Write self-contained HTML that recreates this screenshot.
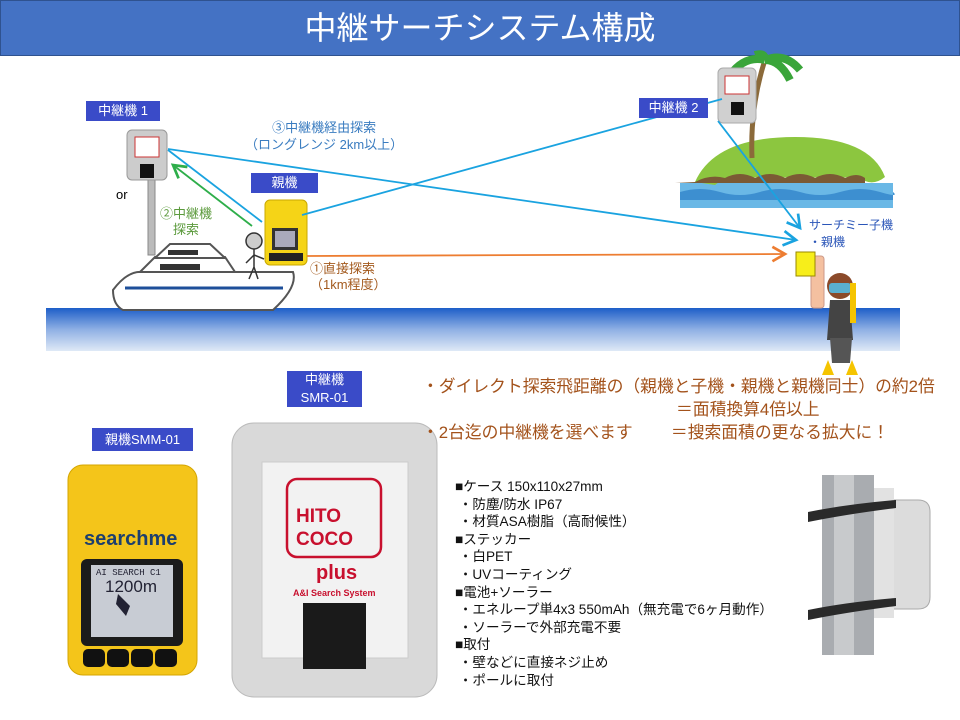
<!DOCTYPE html>
<html><head><meta charset="utf-8"><style>
body{margin:0;width:960px;height:720px;background:#fff;position:relative;overflow:hidden;font-family:"Liberation Sans","Noto Sans CJK JP",sans-serif}
.a{position:absolute;white-space:nowrap}
.lb{position:absolute;background:#3a4bc8;color:#fff;font-size:13px;text-align:center;line-height:20px}
</style></head><body>
<div class="a" style="left:0;top:0;width:958px;height:54px;background:#4472c4;border:1px solid #2f528f"></div>
<div class="a" style="left:0;top:7px;width:960px;text-align:center;color:#fff;font-size:32px;line-height:42px">中継サーチシステム構成</div>

<svg class="a" style="left:0;top:0" width="960" height="720">
<defs>
<linearGradient id="sea" x1="0" y1="0" x2="0" y2="1"><stop offset="0" stop-color="#1d5ec8"/><stop offset="0.5" stop-color="#8fb0e4"/><stop offset="1" stop-color="#dfe9f6"/></linearGradient>
<marker id="ab" markerWidth="10" markerHeight="10" refX="8" refY="5" orient="auto"><path d="M1,1 L8,5 L1,9" fill="none" stroke="#1aa3e0" stroke-width="1.5"/></marker>
<marker id="ag" markerWidth="10" markerHeight="10" refX="8" refY="5" orient="auto"><path d="M1,1 L8,5 L1,9" fill="none" stroke="#2eae4a" stroke-width="1.5"/></marker>
<marker id="ao" markerWidth="10" markerHeight="10" refX="8" refY="5" orient="auto"><path d="M1,1 L8,5 L1,9" fill="none" stroke="#ed7d31" stroke-width="1.5"/></marker>
</defs>
<rect x="46" y="308" width="854" height="43" fill="url(#sea)"/>
<!-- island -->
<rect x="680" y="183" width="213" height="25" fill="#6ab8e6"/>
<path d="M680,192 q20,-6 40,0 t40,0 t40,0 t40,0 t40,0 t13,0 v8 h-213z" fill="#3d8fd0"/>
<path d="M695,182 q20,-45 100,-45 q75,0 90,40 q-10,8 -20,4 q-15,-8 -30,0 q-15,-8 -30,0 q-15,-8 -30,0 q-15,-8 -30,0 q-15,-8 -30,4z" fill="#8cc63f"/>
<path d="M695,182 q15,-8 30,-4 q15,-8 30,0 q15,-8 30,0 q15,-8 30,0 q15,-8 30,0 q12,-6 20,0 v5 h-190z" fill="#7b5a35"/>
<path d="M752,158 q-2,-50 12,-95" stroke="#8b6a3a" stroke-width="5" fill="none"/>
<path d="M765,60 q-20,-5 -35,15 M765,60 q20,-8 35,10 M765,60 q0,-8 -10,-5 M765,60 q15,0 25,20" stroke="#3aa53a" stroke-width="8" fill="none"/>
<!-- repeater 2 -->
<rect x="718" y="68" width="38" height="55" rx="5" fill="#d0d0d0" stroke="#aaa"/>
<rect x="725" y="76" width="24" height="18" fill="#fff" stroke="#c33"/>
<rect x="731" y="102" width="13" height="13" fill="#111"/>
<!-- pole & repeater 1 -->
<rect x="148" y="175" width="7" height="80" fill="#bbb" stroke="#888"/>
<rect x="127" y="130" width="40" height="50" rx="5" fill="#ccc" stroke="#999"/>
<rect x="135" y="137" width="24" height="20" fill="#fff" stroke="#c33"/>
<rect x="140" y="164" width="14" height="14" fill="#111"/>
<!-- boat -->
<path d="M113,290 q15,-20 30,-18 h150 q5,15 -20,38 h-150 q-10,-5 -10,-20z" fill="#fff" stroke="#555" stroke-width="2"/>
<path d="M125,288 h158" stroke="#1e4f9a" stroke-width="3"/>
<path d="M140,272 l15,-15 h70 l10,15z" fill="#fff" stroke="#555" stroke-width="2"/>
<path d="M155,258 l15,-14 h40 l15,14z" fill="#fff" stroke="#555" stroke-width="2"/>
<rect x="160" y="264" width="40" height="6" fill="#333"/><rect x="168" y="250" width="30" height="5" fill="#333"/>
<!-- stick figure -->
<circle cx="254" cy="241" r="8" fill="#ccc" stroke="#333" stroke-width="1.5"/>
<path d="M254,249 v18 l-5,12 M254,267 l4,12 M254,255 l-8,8 M254,255 l10,4" stroke="#333" stroke-width="1.5" fill="none"/>
<!-- parent small -->
<rect x="265" y="200" width="42" height="65" rx="5" fill="#f5d417" stroke="#c9a800"/>
<rect x="272" y="228" width="26" height="22" fill="#333"/><rect x="275" y="231" width="20" height="16" fill="#aab"/>
<rect x="269" y="253" width="34" height="8" fill="#222"/>
<!-- lines -->
<line x1="168" y1="149" x2="796" y2="240" stroke="#1aa3e0" stroke-width="1.8" marker-end="url(#ab)"/>
<line x1="302" y1="215" x2="722" y2="99" stroke="#1aa3e0" stroke-width="1.8"/>
<line x1="718" y1="121" x2="800" y2="228" stroke="#1aa3e0" stroke-width="1.8" marker-end="url(#ab)"/>
<line x1="262" y1="222" x2="168" y2="150" stroke="#1aa3e0" stroke-width="1.8"/>
<line x1="252" y1="226" x2="173" y2="165" stroke="#2eae4a" stroke-width="1.8" marker-end="url(#ag)"/>
<line x1="307" y1="256" x2="785" y2="254" stroke="#ed7d31" stroke-width="1.8" marker-end="url(#ao)"/>
<!-- child & diver -->
<rect x="811" y="256" width="13" height="52" rx="3" fill="#f4c0a0" stroke="#c98"/>
<rect x="796" y="252" width="19" height="24" fill="#f7ee1a" stroke="#998800"/>
<circle cx="840" cy="286" r="13" fill="#8b4a2a"/>
<rect x="829" y="283" width="22" height="10" rx="3" fill="#5ab0d0"/>
<path d="M830,300 h20 l3,40 h-26z" fill="#444"/>
<path d="M830,338 h22 l-2,25 h-18z" fill="#555"/>
<path d="M828,360 l-6,15 h12 z M852,360 l6,15 h-12z" fill="#f5c400"/>
<rect x="850" y="283" width="6" height="40" fill="#f5c400"/>
<!-- big repeater -->
<rect x="232" y="423" width="205" height="274" rx="22" fill="#d9d9d9" stroke="#bbb"/>
<rect x="262" y="462" width="146" height="196" fill="#f2f2f2" stroke="#ccc"/>
<rect x="287" y="479" width="94" height="78" rx="10" fill="none" stroke="#c8102e" stroke-width="2.5"/>
<rect x="303" y="603" width="63" height="66" fill="#1a1a1a"/>
<!-- parent big -->
<rect x="68" y="465" width="129" height="210" rx="15" fill="#f4c51a" stroke="#d4a500"/>
<rect x="81" y="559" width="102" height="87" rx="6" fill="#1b1b1b"/>
<rect x="91" y="565" width="82" height="72" fill="#c8ccd4"/>
<path d="M118,594 l12,12 l-4,10 l-10,-12z" fill="#223"/>
<rect x="83" y="649" width="22" height="18" rx="5" fill="#111"/><rect x="107" y="649" width="22" height="18" rx="5" fill="#111"/><rect x="131" y="649" width="22" height="18" rx="5" fill="#111"/><rect x="155" y="649" width="22" height="18" rx="5" fill="#111"/>
<!-- pole photo -->
<rect x="822" y="475" width="52" height="180" fill="#a9acb0"/>
<rect x="834" y="475" width="20" height="180" fill="#c8cacc"/>
<path d="M878,500 h40 q12,0 12,12 v85 q0,12 -12,12 h-40z" fill="#dcdcdc" stroke="#aaa"/>
<rect x="874" y="488" width="20" height="130" fill="#e2e2e2"/>
<path d="M808,512 q40,-8 88,-12 v8 q-48,6 -88,14z" fill="#2a2a2a"/>
<path d="M808,610 q40,-8 88,-12 v8 q-48,6 -88,14z" fill="#2a2a2a"/>
</svg>

<div class="lb" style="left:86px;top:101px;width:74px">中継機 1</div>
<div class="lb" style="left:251px;top:173px;width:67px">親機</div>
<div class="lb" style="left:639px;top:98px;width:69px">中継機 2</div>
<div class="lb" style="left:287px;top:371px;width:75px;line-height:18px">中継機<br>SMR-01</div>
<div class="lb" style="left:92px;top:428px;width:101px;line-height:23px">親機SMM-01</div>

<div class="a" style="left:245px;top:119px;font-size:13px;color:#3a7cc0;text-align:center;line-height:17px">③中継機経由探索<br>（ロングレンジ 2km以上）</div>
<div class="a" style="left:116px;top:187px;font-size:13px">or</div>
<div class="a" style="left:160px;top:206px;font-size:13px;color:#5b9a3c;line-height:16px;text-align:center">②中継機<br>探索</div>
<div class="a" style="left:310px;top:261px;font-size:13px;color:#a35a1e;line-height:16px">①直接探索<br>（1km程度）</div>
<div class="a" style="left:809px;top:217px;font-size:12px;color:#2a55b8;line-height:17px">サーチミー子機<br>・親機</div>

<div class="a" style="left:296px;top:505px;font-size:19px;font-weight:bold;color:#c8102e;line-height:23px">HITO<br>COCO</div>
<div class="a" style="left:316px;top:562px;font-size:20px;font-weight:bold;color:#c8102e">plus</div>
<div class="a" style="left:293px;top:588px;font-size:9px;font-weight:bold;color:#c8102e">A&amp;I Search System</div>
<div class="a" style="left:84px;top:528px;font-size:20px;font-weight:bold;color:#1d3f6e">searchme</div>
<div class="a" style="left:96px;top:568px;font-size:9px;font-family:'Liberation Mono',monospace;color:#223">AI SEARCH C1</div>
<div class="a" style="left:105px;top:577px;font-size:17px;color:#223">1200m</div>

<div class="a" style="left:422px;top:375px;font-size:16.8px;color:#a3521b;line-height:23px">・ダイレクト探索飛距離の（親機と子機・親機と親機同士）の約2倍<br><span style="padding-left:254px">＝面積換算4倍以上</span><br>・2台迄の中継機を選べます　　 ＝搜索面積の更なる拡大に！</div>

<div class="a" style="left:455px;top:478px;font-size:13.6px;line-height:17.6px;color:#111">■ケース 150x110x27mm<br>&nbsp;・防塵/防水 IP67<br>&nbsp;・材質ASA樹脂（高耐候性）<br>■ステッカー<br>&nbsp;・白PET<br>&nbsp;・UVコーティング<br>■電池+ソーラー<br>&nbsp;・エネループ単4x3 550mAh（無充電で6ヶ月動作）<br>&nbsp;・ソーラーで外部充電不要<br>■取付<br>&nbsp;・壁などに直接ネジ止め<br>&nbsp;・ポールに取付</div>
</body></html>
